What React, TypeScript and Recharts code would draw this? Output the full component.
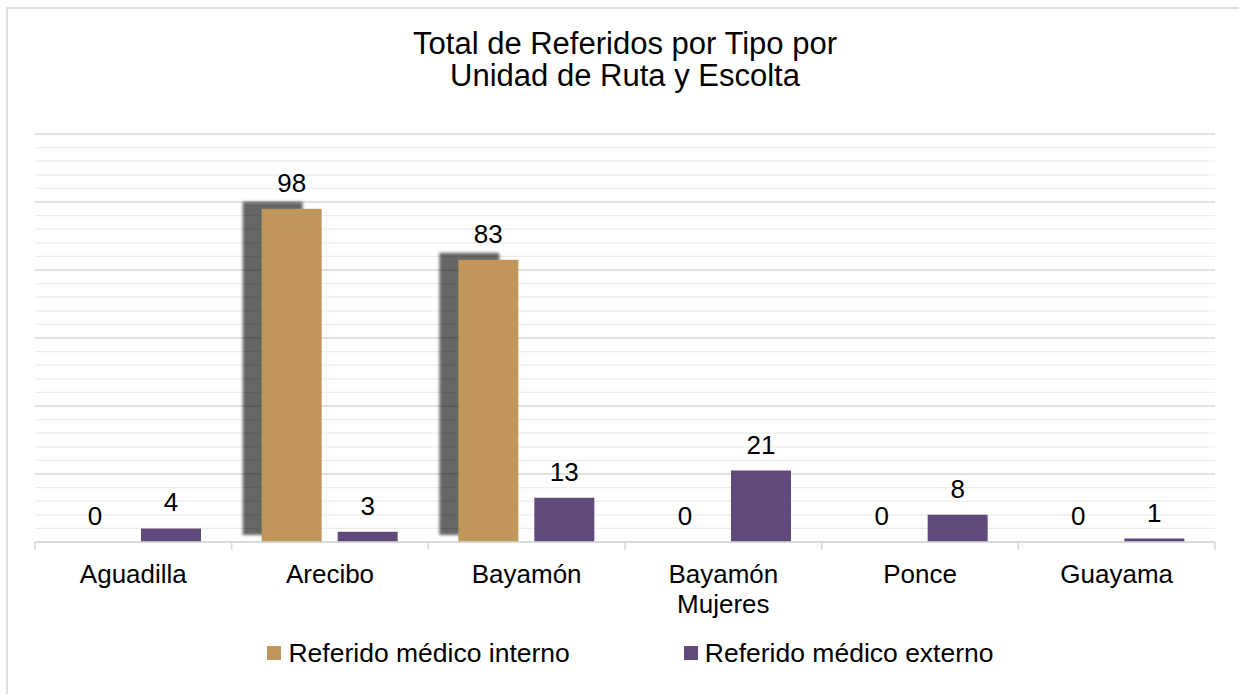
import React from 'react';
import { ComposedChart, Bar, Line, XAxis, YAxis, CartesianGrid, Legend, LabelList } from 'recharts';

const unidades = ['Aguadilla', 'Arecibo', 'Bayamón', 'Bayamón Mujeres', 'Ponce', 'Guayama'];
const interno = [0, 98, 83, 0, 0, 0];
const externo = [4, 3, 13, 21, 8, 1];
const minorTicks = [0, 4, 8, 12, 16, 20, 24, 28, 32, 36, 40, 44, 48, 52, 56, 60, 64, 68, 72, 76, 80, 84, 88, 92, 96, 100, 104, 108, 112, 116, 120];
const majorTicks = [0, 20, 40, 60, 80, 100, 120];
const seriesOrder = ['Referido médico interno', 'Referido médico externo'];

const FONT = '"Liberation Sans", Arial, sans-serif';
const GOLD = '#C0965A';
const PURPLE = '#604A7B';

const data = unidades.map((u, i) => ({ unidad: u, interno: interno[i], externo: externo[i] }));

let measureCtx: CanvasRenderingContext2D | null = null;
function wrapWords(label: string, maxWidth: number, font: string) {
  if (!measureCtx) measureCtx = document.createElement('canvas').getContext('2d');
  const ctx = measureCtx!;
  ctx.font = font;
  const words = String(label).split(' ');
  const lines: string[] = [];
  let cur = '';
  words.forEach((w) => {
    const test = cur ? cur + ' ' + w : w;
    if (cur && ctx.measureText(test).width > maxWidth) {
      lines.push(cur);
      cur = w;
    } else {
      cur = test;
    }
  });
  if (cur) lines.push(cur);
  return lines;
}

// gold bars carry an offset dark shadow (up-left), like the original Excel chart
const ShadowBar = (props: any) => {
  const { x, y, width, height, fill, index } = props;
  if (!height || height <= 0) return null;
  const id = `barShadow-${index}`;
  return (
    <g>
      <defs>
        <filter id={id} x="-20%" y="-20%" width="140%" height="140%">
          <feGaussianBlur stdDeviation="1.6" />
        </filter>
      </defs>
      <rect x={x - 19} y={y - 7} width={width} height={height} fill="#000" fillOpacity={0.6} filter={`url(#${id})`} />
      <rect x={x} y={y} width={width} height={height} fill={fill} />
    </g>
  );
};

// label + tick marks at the category boundaries
const CategoryTick = (props: any) => {
  const { x, y, payload, index, visibleTicksCount } = props;
  const half = payload?.offset || 98.3;
  const lines = wrapWords(payload.value, half * 2 - 10, `26px ${FONT}`);
  return (
    <g>
      <line x1={x - half} x2={x - half} y1={y - 8} y2={y} stroke="#d9d9d9" strokeWidth={1.5} />
      {index === visibleTicksCount - 1 && (
        <line x1={x + half} x2={x + half} y1={y - 8} y2={y} stroke="#d9d9d9" strokeWidth={1.5} />
      )}
      <text x={x} y={y + 33} textAnchor="middle" fontSize={26} fontFamily={FONT} fill="#000">
        {lines.map((l, i) => (
          <tspan key={i} x={x} dy={i === 0 ? 0 : 29.5}>
            {l}
          </tspan>
        ))}
      </text>
    </g>
  );
};

const renderLegend = (props: any) => {
  const items = [...(props.payload || [])]
    .filter((it: any) => seriesOrder.includes(it.value))
    .sort((a: any, b: any) => seriesOrder.indexOf(a.value) - seriesOrder.indexOf(b.value));
  return (
    <div
      style={{
        display: 'flex',
        justifyContent: 'center',
        alignItems: 'center',
        gap: 114,
        height: 40,
        paddingLeft: 22,
        fontFamily: FONT,
        fontSize: 26.5,
        color: '#000',
      }}
    >
      {items.map((it: any) => (
        <div key={it.value} style={{ display: 'flex', alignItems: 'center' }}>
          <span style={{ display: 'inline-block', width: 14, height: 14, background: it.color, marginRight: 7 }} />
          <span>{it.value}</span>
        </div>
      ))}
    </div>
  );
};

export default function App() {
  return (
    <div style={{ position: 'absolute', left: 0, top: 0, width: 1239, height: 694, background: '#fff', overflow: 'hidden' }}>
      <div
        style={{
          position: 'absolute',
          left: 6,
          top: 7,
          width: 1300,
          height: 800,
          border: '2px solid #e0e0e0',
        }}
      />
      <div
        style={{
          position: 'absolute',
          top: 28,
          left: 325,
          width: 600,
          textAlign: 'center',
          fontFamily: FONT,
          fontSize: 31,
          lineHeight: '32px',
          color: '#000',
        }}
      >
        Total de Referidos por Tipo por
        <br />
        Unidad de Ruta y Escolta
      </div>
      <div style={{ position: 'absolute', left: 0, top: 0 }}>
        <ComposedChart
          width={1239}
          height={694}
          data={data}
          margin={{ top: 134, right: 24, left: 35, bottom: 22 }}
          barCategoryGap={30}
          barGap={16}
          barSize={60}
        >
          <CartesianGrid yAxisId="minor" vertical={false} stroke="#ececec" strokeWidth={1.2} />
          <CartesianGrid yAxisId="major" vertical={false} stroke="#d9d9d9" strokeWidth={1.5} />
          <YAxis
            yAxisId="minor"
            width={0}
            domain={[0, 120]}
            ticks={minorTicks}
            interval={0}
            axisLine={false}
            tickLine={false}
            tickFormatter={() => ''}
          />
          <YAxis
            yAxisId="major"
            width={0}
            domain={[0, 120]}
            ticks={majorTicks}
            interval={0}
            axisLine={false}
            tickLine={false}
            tickFormatter={() => ''}
          />
          <XAxis
            dataKey="unidad"
            height={90}
            interval={0}
            tickLine={false}
            tickSize={8}
            tickMargin={0}
            axisLine={{ stroke: '#d9d9d9', strokeWidth: 1.5 }}
            tick={<CategoryTick />}
          />
          <Legend
            verticalAlign="bottom"
            content={renderLegend}
            wrapperStyle={{ top: 633, left: 0, width: 1239 }}
          />
          {/* invisible series so the minor-grid axis is in use */}
          <Line
            yAxisId="minor"
            dataKey="externo"
            stroke="none"
            dot={false}
            activeDot={false}
            legendType="none"
            isAnimationActive={false}
          />
          <Bar yAxisId="major" dataKey="interno" name="Referido médico interno" fill={GOLD} shape={<ShadowBar />} isAnimationActive={false}>
            <LabelList dataKey="interno" position="top" offset={17} fontSize={26} fontFamily={FONT} fill="#000" />
          </Bar>
          <Bar yAxisId="major" dataKey="externo" name="Referido médico externo" fill={PURPLE} isAnimationActive={false}>
            <LabelList dataKey="externo" position="top" offset={17} fontSize={26} fontFamily={FONT} fill="#000" />
          </Bar>
        </ComposedChart>
      </div>
    </div>
  );
}
